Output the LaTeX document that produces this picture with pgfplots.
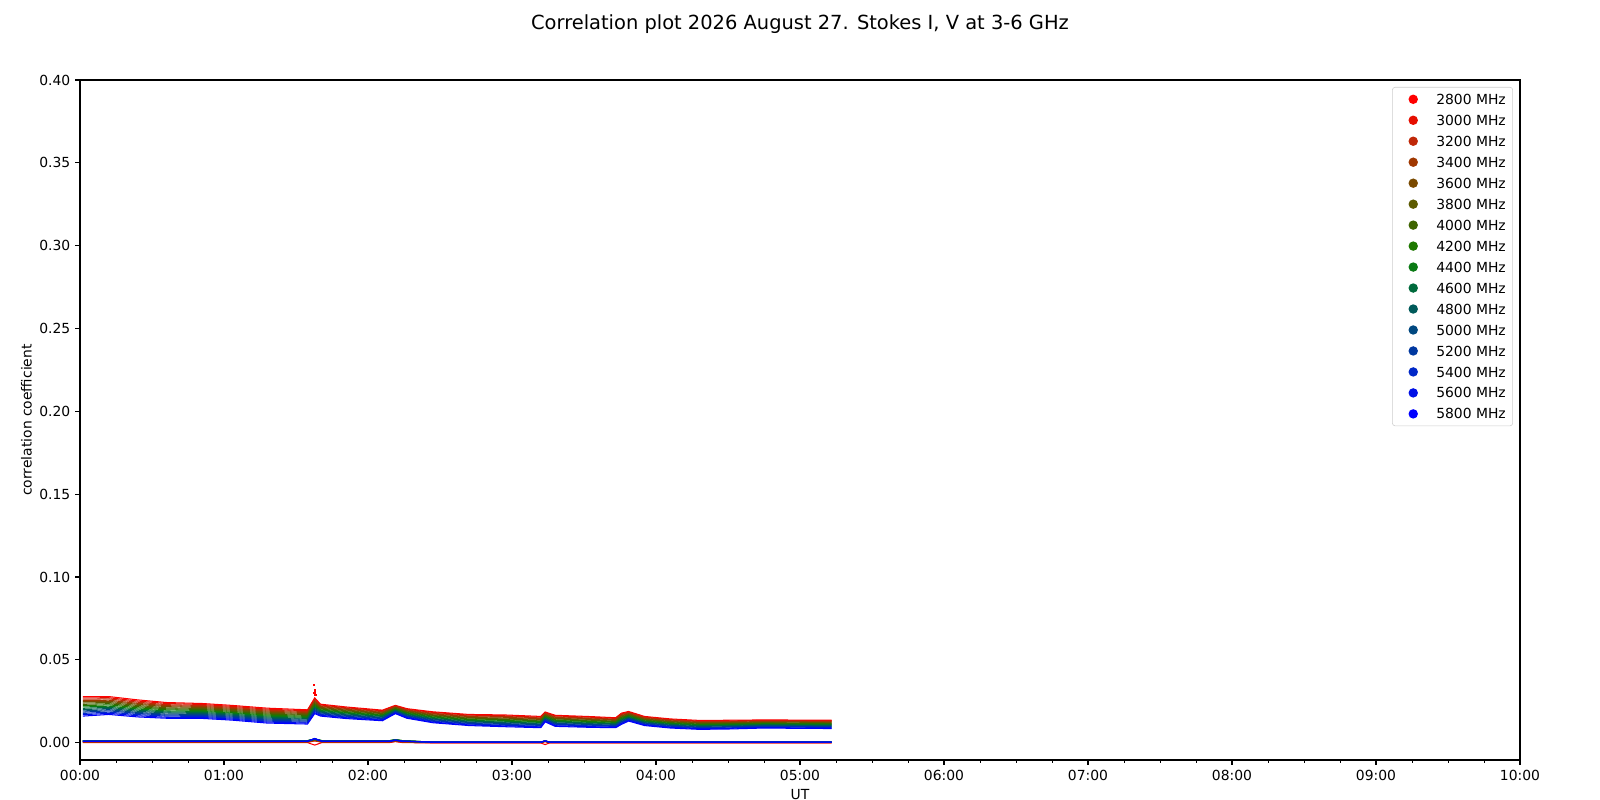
\documentclass[border=0pt]{standalone}
\usepackage{fontspec}
\setmainfont{DejaVu Sans}
\usepackage{pgfplots}
\usepackage{pgfplotstable}
\pgfplotsset{compat=1.18}

\definecolor{c2800}{RGB}{255,0,0}
\definecolor{c3000}{RGB}{230,14,0}
\definecolor{c3200}{RGB}{192,40,8}
\definecolor{c3400}{RGB}{160,56,0}
\definecolor{c3600}{RGB}{122,74,0}
\definecolor{c3800}{RGB}{92,90,0}
\definecolor{c4000}{RGB}{62,100,0}
\definecolor{c4200}{RGB}{30,120,0}
\definecolor{c4400}{RGB}{10,122,20}
\definecolor{c4600}{RGB}{0,106,60}
\definecolor{c4800}{RGB}{0,90,90}
\definecolor{c5000}{RGB}{0,72,128}
\definecolor{c5200}{RGB}{0,56,160}
\definecolor{c5400}{RGB}{0,40,200}
\definecolor{c5600}{RGB}{0,16,230}
\definecolor{c5800}{RGB}{0,0,255}

% Stokes I correlation per frequency
\pgfplotstableread{
t f2800 f3000 f3200 f3400 f3600 f3800 f4000 f4200 f4400 f4600 f4800 f5000 f5200 f5400 f5600 f5800
0.02 .0278 .0270 .0262 .0254 .0247 .0239 .0231 .0223 .0215 .0207 .0199 .0191 .0184 .0176 .0168 .0160
0.20 .0278 .0271 .0264 .0256 .0249 .0242 .0235 .0228 .0220 .0213 .0206 .0199 .0192 .0184 .0177 .0170
0.40 .0258 .0251 .0244 .0237 .0231 .0224 .0217 .0210 .0203 .0196 .0189 .0182 .0176 .0169 .0162 .0155
0.60 .0242 .0236 .0229 .0223 .0217 .0210 .0204 .0198 .0191 .0185 .0179 .0172 .0166 .0160 .0153 .0147
0.85 .0236 .0230 .0224 .0218 .0212 .0206 .0200 .0194 .0188 .0182 .0176 .0170 .0164 .0158 .0152 .0146
1.05 .0225 .0219 .0213 .0207 .0201 .0195 .0189 .0183 .0178 .0172 .0166 .0160 .0154 .0148 .0142 .0136
1.30 .0208 .0202 .0196 .0190 .0184 .0178 .0172 .0166 .0160 .0154 .0148 .0142 .0136 .0130 .0124 .0118
1.58 .0198 .0192 .0187 .0181 .0175 .0169 .0164 .0158 .0152 .0146 .0141 .0135 .0129 .0123 .0118 .0112
1.63 .0270 .0264 .0257 .0251 .0245 .0238 .0232 .0226 .0219 .0213 .0207 .0200 .0194 .0188 .0181 .0175
1.67 .0232 .0227 .0222 .0218 .0213 .0208 .0203 .0198 .0194 .0189 .0184 .0179 .0174 .0170 .0165 .0160
1.85 .0215 .0210 .0206 .0201 .0196 .0192 .0187 .0182 .0178 .0173 .0168 .0164 .0159 .0154 .0150 .0145
2.10 .0196 .0192 .0187 .0183 .0179 .0175 .0170 .0166 .0162 .0158 .0153 .0149 .0145 .0140 .0136 .0132
2.19 .0225 .0222 .0218 .0215 .0212 .0208 .0205 .0202 .0198 .0195 .0192 .0188 .0185 .0182 .0178 .0175
2.27 .0205 .0201 .0197 .0193 .0190 .0186 .0182 .0178 .0174 .0170 .0166 .0162 .0159 .0155 .0151 .0147
2.45 .0186 .0182 .0177 .0173 .0168 .0164 .0160 .0155 .0151 .0146 .0142 .0138 .0133 .0129 .0124 .0120
2.70 .0170 .0166 .0161 .0157 .0152 .0148 .0143 .0139 .0134 .0130 .0125 .0121 .0116 .0112 .0107 .0103
2.95 .0167 .0162 .0158 .0153 .0148 .0143 .0139 .0134 .0129 .0124 .0120 .0115 .0110 .0105 .0101 .0096
3.20 .0158 .0153 .0149 .0144 .0140 .0135 .0131 .0126 .0122 .0117 .0113 .0108 .0104 .0099 .0095 .0090
3.23 .0185 .0181 .0177 .0173 .0169 .0165 .0161 .0157 .0153 .0149 .0145 .0141 .0137 .0133 .0129 .0125
3.30 .0165 .0161 .0156 .0152 .0147 .0143 .0138 .0134 .0129 .0125 .0120 .0116 .0111 .0107 .0102 .0098
3.55 .0157 .0153 .0148 .0144 .0140 .0135 .0131 .0127 .0122 .0118 .0114 .0109 .0105 .0101 .0096 .0092
3.72 .0150 .0146 .0142 .0138 .0134 .0130 .0126 .0122 .0118 .0114 .0110 .0106 .0102 .0098 .0094 .0090
3.76 .0178 .0173 .0169 .0164 .0160 .0155 .0151 .0146 .0142 .0137 .0133 .0128 .0124 .0119 .0115 .0110
3.81 .0188 .0184 .0180 .0176 .0173 .0169 .0165 .0161 .0157 .0153 .0149 .0145 .0142 .0138 .0134 .0130
3.92 .0158 .0154 .0151 .0147 .0143 .0140 .0136 .0132 .0129 .0125 .0121 .0118 .0114 .0110 .0107 .0103
4.10 .0143 .0139 .0136 .0132 .0128 .0125 .0121 .0117 .0114 .0110 .0106 .0103 .0099 .0095 .0092 .0088
4.30 .0134 .0130 .0127 .0123 .0120 .0116 .0112 .0109 .0105 .0102 .0098 .0094 .0091 .0087 .0084 .0080
4.50 .0135 .0131 .0128 .0124 .0121 .0117 .0114 .0110 .0107 .0103 .0100 .0096 .0093 .0089 .0086 .0082
4.75 .0137 .0134 .0130 .0127 .0124 .0121 .0117 .0114 .0111 .0108 .0104 .0101 .0098 .0094 .0091 .0088
5.00 .0136 .0133 .0129 .0126 .0123 .0119 .0116 .0113 .0109 .0106 .0103 .0099 .0096 .0093 .0089 .0086
5.22 .0135 .0132 .0128 .0125 .0122 .0118 .0115 .0112 .0108 .0105 .0102 .0098 .0095 .0092 .0088 .0085
}\Itab

% Stokes V correlation per frequency
\pgfplotstableread{
t f2800 f3000 f3200 f3400 f3600 f3800 f4000 f4200 f4400 f4600 f4800 f5000 f5200 f5400 f5600 f5800
0.02 .0000 .0002 .0003 .0005 .0006 .0008 .0010 .0012 .0012 .0011 .0010 .0010 .0009 .0009 .0008 .0008
1.58 .0000 .0002 .0003 .0005 .0006 .0008 .0010 .0012 .0012 .0011 .0010 .0010 .0009 .0009 .0008 .0008
1.63 -.0015 .0010 .0012 .0015 .0016 .0018 .0020 .0022 .0022 .0021 .0020 .0022 .0022 .0023 .0024 .0025
1.68 .0000 .0002 .0003 .0005 .0006 .0008 .0010 .0012 .0012 .0011 .0010 .0010 .0009 .0009 .0008 .0008
2.15 .0000 .0002 .0003 .0005 .0006 .0008 .0010 .0012 .0012 .0011 .0010 .0010 .0009 .0009 .0008 .0008
2.19 .0006 .0008 .0009 .0011 .0012 .0014 .0016 .0018 .0018 .0017 .0016 .0016 .0015 .0015 .0014 .0014
2.24 .0000 .0002 .0003 .0005 .0006 .0008 .0010 .0012 .0012 .0011 .0010 .0010 .0009 .0009 .0008 .0008
2.45 -.0002 -.0001 .0000 .0001 .0001 .0002 .0002 .0003 .0003 .0003 .0003 .0003 .0003 .0003 .0003 .0003
3.20 -.0002 -.0001 .0000 .0001 .0001 .0002 .0002 .0003 .0003 .0003 .0003 .0003 .0003 .0003 .0003 .0003
3.23 -.0012 .0006 .0007 .0008 .0008 .0009 .0009 .0010 .0010 .0010 .0010 .0010 .0010 .0010 .0010 .0010
3.26 -.0002 -.0001 .0000 .0001 .0001 .0002 .0002 .0003 .0003 .0003 .0003 .0003 .0003 .0003 .0003 .0003
5.22 -.0002 -.0001 .0000 .0001 .0001 .0002 .0002 .0003 .0003 .0003 .0003 .0003 .0003 .0003 .0003 .0003
}\Vtab

\begin{document}
\begin{tikzpicture}
\begin{axis}[
  at={(57.6pt,28.8pt)}, anchor=south west,
  scale only axis, width=1036.8pt, height=489.6pt,
  xmin=0, xmax=10, ymin=-0.0105, ymax=0.40,
  xtick={0,1,2,3,4,5,6,7,8,9,10},
  xticklabels={00:00,01:00,02:00,03:00,04:00,05:00,06:00,07:00,08:00,09:00,10:00},
  minor x tick num=3,
  ytick={0,0.05,0.1,0.15,0.2,0.25,0.3,0.35,0.4},
  yticklabel style={/pgf/number format/.cd, fixed, fixed zerofill, precision=2, assume math mode=true},
  tick label style={font=\fontsize{10}{12}\selectfont},
  tick align=outside, tick pos=left,
  major tick length=3.5pt, minor tick length=2pt,
  every tick/.style={black, line width=0.8pt},
  minor tick style={line width=0.6pt},
  axis line style={line width=0.8pt},
  xlabel={UT},
  xlabel style={at={(axis description cs:0.5,-0.0515)}, anchor=center, font=\fontsize{10}{12}\selectfont},
  ylabel={correlation coefficient},
  ylabel style={at={(axis description cs:-0.0372,0.5)}, anchor=center, rotate=0, font=\fontsize{10}{12}\selectfont},
  legend cell align=left,
  legend style={at={(rel axis cs:0.99514,0.9897)}, anchor=north east,
    draw=black!20, rounded corners=2pt, fill=white,
    inner sep=5pt, row sep=7.8pt,
    nodes={inner sep=0pt, text height=7.3pt, text depth=0pt, font=\fontsize{10}{12}\selectfont},
    /tikz/every odd column/.style={column sep=6.6pt}},
]
\pgfplotsinvokeforeach{2800,3000,3200,3400,3600,3800,4000,4200,4400,4600,4800,5000,5200,5400,5600,5800}{
  \addlegendimage{legend image code/.code={\path[draw=none,fill=none] (0pt,-3.4pt) rectangle (20pt,3.4pt); \fill[c#1, draw=none] (10pt,0pt) circle (3.4pt);}}
  \addlegendentry{#1 MHz}
}
\pgfplotsinvokeforeach{2800,3000,3200,3400,3600,3800,4000,4200,4400,4600,4800,5000,5200,5400,5600,5800}{
  \addplot[c#1, line width=0.75pt, forget plot] table[x=t, y=f#1]{\Itab};
}
\addplot[only marks, mark=square*, mark size=0.5pt, c2800, forget plot] coordinates {
  (1.625,0.0349) (1.630,0.0320) (1.628,0.0300) (1.635,0.0290) (1.632,0.0310)
};
\pgfplotsinvokeforeach{2800,3000,3200,3400,3600,3800,4000,4200,4400,4600,4800,5000,5200,5400,5600,5800}{
  \addplot[c#1, line width=0.75pt, forget plot] table[x=t, y=f#1]{\Vtab};
}
\end{axis}
\node[font=\fontsize{14}{16.8}\selectfont] at (576pt,558.4pt) {Correlation plot 2026 August 27. Stokes I, V at 3-6 GHz};
\pgfresetboundingbox
\path (0,0) rectangle (1152pt,576pt);
\end{tikzpicture}
\end{document}
